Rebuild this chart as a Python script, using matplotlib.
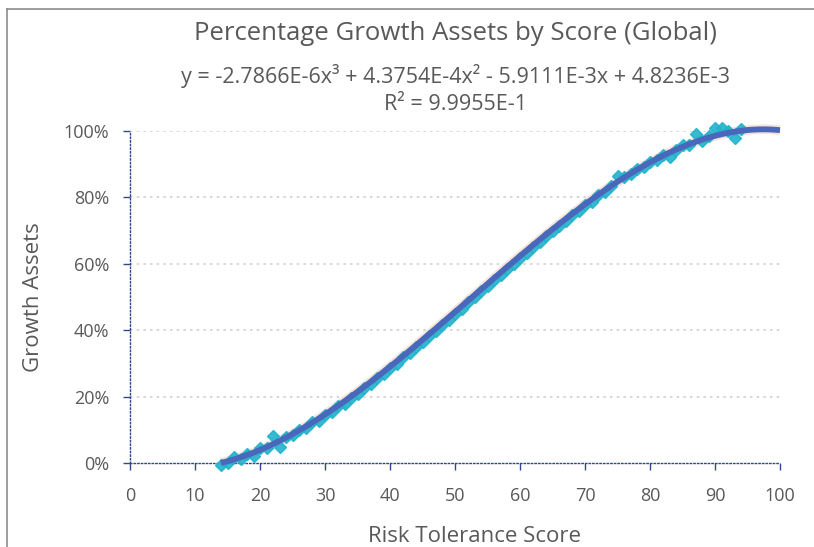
import numpy as np
import matplotlib
matplotlib.use("Agg")
import matplotlib.pyplot as plt
from matplotlib.lines import Line2D

plt.rcParams['font.family'] = ['Open Sans', 'DejaVu Sans']

# --- data ---
scores = list(range(14, 95))
growth_pct = [
    -0.5, 0.0, 1.8, 1.2, 2.6, 2.2, 4.4, 4.6, 8.0, 4.8,   # 14-23
    7.9, 8.4, 10.0, 10.4, 12.4, 12.8, 14.5, 15.3, 17.2, 17.9,  # 24-33
    19.7, 20.8, 22.6, 23.8, 25.5, 26.8, 28.6, 29.9, 31.8, 33.0,  # 34-43
    35.0, 36.4, 38.3, 39.7, 41.6, 43.0, 45.0, 46.5, 48.4, 49.9,  # 44-53
    51.8, 53.3, 55.2, 56.6, 58.5, 60.0, 61.8, 63.3, 65.1, 66.5,  # 54-63
    68.3, 69.8, 71.5, 72.9, 74.6, 75.9, 77.7, 78.7, 80.6, 81.6,  # 64-73
    83.4, 86.5, 86.0, 87.0, 88.6, 89.3, 90.8, 91.3, 92.9, 92.3,  # 74-83
    94.4, 95.7, 95.8, 99.0, 97.0, 98.6, 100.9, 101.0, 99.9, 97.8, # 84-93
    100.6,                                                       # 94
]
# cubic trendline coefficients as printed on the chart
trend_coef = [-2.7866E-6, 4.3754E-4, -5.9111E-3, 4.8236E-3]
trend_x = np.linspace(14, 100, 300)

fig = plt.figure(figsize=(8.14, 5.47), dpi=100)
ax = fig.add_axes([130 / 814, 84 / 547, 650 / 814, 332 / 547])

gray = '#595959'
spine_col = '#2e4a86'
dots = (0, (1, 1.6))

# scatter points (diamonds)
ax.plot(scores, np.array(growth_pct) / 100, linestyle='none', marker='D', ms=6.5,
        color='#1fb3cc', mec='#1fb3cc', alpha=0.9, clip_on=False, zorder=3)

# trendline with a faint halo
trend_y = np.polyval(trend_coef, trend_x)
ax.plot(trend_x, trend_y, color='#f6e4da', lw=7, solid_capstyle='butt', zorder=2, clip_on=False)
ax.plot(trend_x, trend_y, color='#4a68bb', lw=4.2, solid_capstyle='butt', zorder=4, clip_on=False)

ax.set_xlim(0, 100)
ax.set_ylim(0, 1)
ax.set_xticks(range(0, 101, 10))
ax.set_yticks(np.arange(0, 1.01, 0.2))
ax.set_yticklabels([f"{int(round(v * 100))}%" for v in np.arange(0, 1.01, 0.2)])

for v in np.arange(0.2, 1.01, 0.2):
    ax.axhline(v, color='#d0d0d0', lw=1.2, ls=(0, (1.5, 2.5)), zorder=1)

for s in ['top', 'right']:
    ax.spines[s].set_visible(False)
for s in ['left', 'bottom']:
    ax.spines[s].set_color(spine_col)
    ax.spines[s].set_linewidth(1.0)
    ax.spines[s].set_linestyle(dots)

ax.tick_params(axis='both', colors=spine_col, labelcolor=gray, labelsize=13,
               length=5, width=1.0, direction='out', pad=10)
ax.tick_params(axis='x', pad=12)
for t in ax.xaxis.get_ticklines() + ax.yaxis.get_ticklines():
    t.set_linestyle(dots)

ax.set_xlabel("Risk Tolerance Score", fontsize=16, color=gray)
ax.xaxis.set_label_coords(0.53, -0.19)
ax.set_ylabel("Growth Assets", fontsize=16, color=gray, labelpad=14)

cx = 455 / 814
fig.text(cx, 1 - 33 / 547, "Percentage Growth Assets by Score (Global)",
         ha='center', va='center', fontsize=18.5, color=gray)
fig.text(cx, 1 - 76 / 547,
         "y = -2.7866E-6x\u00b3 + 4.3754E-4x\u00b2 - 5.9111E-3x + 4.8236E-3",
         ha='center', va='center', fontsize=15.5, color=gray)
fig.text(cx, 1 - 105 / 547, "R\u00b2 = 9.9955E-1",
         ha='center', va='center', fontsize=15.5, color=gray)

# outer frame (top and left edges)
fig.add_artist(Line2D([7 / 814, 1], [1 - 9 / 547, 1 - 9 / 547], color='#8c8c8c', lw=1.2))
fig.add_artist(Line2D([7 / 814, 7 / 814], [0, 1 - 9 / 547], color='#8c8c8c', lw=1.2))

fig.savefig("out.png", dpi=100)
